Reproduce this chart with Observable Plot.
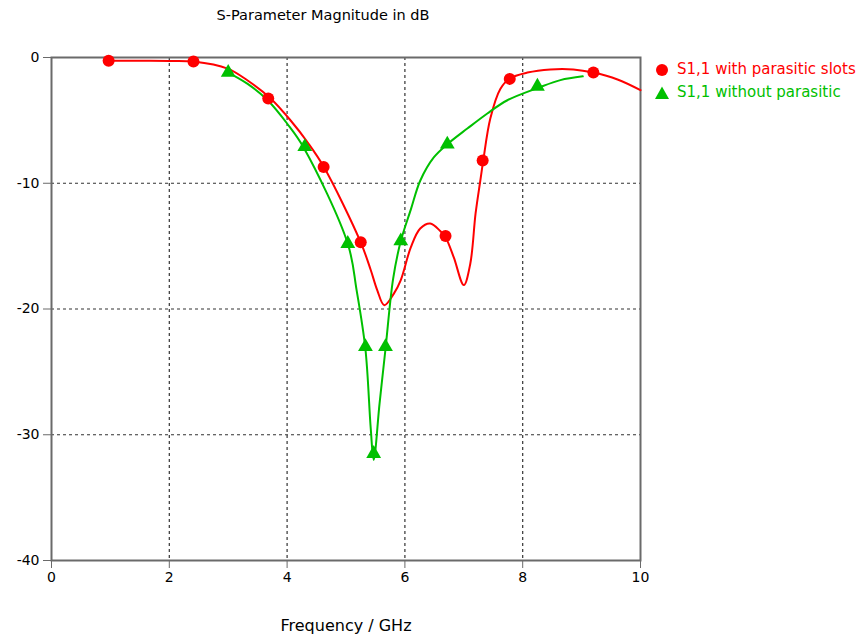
<!DOCTYPE html>
<html>
<head>
<meta charset="utf-8">
<script src="https://cdn.jsdelivr.net/npm/d3@7"></script>
<script src="https://cdn.jsdelivr.net/npm/@observablehq/plot@0.6"></script>
<style>
  html, body { margin: 0; padding: 0; background: #fff; }
  #wrap { position: relative; width: 864px; height: 638px; font-family: "DejaVu Sans", Verdana, sans-serif; }
  #title { position: absolute; top: 7px; left: 0; width: 646px; text-align: center; font-size: 14.5px; color: #000; }
  #legend { position: absolute; left: 654px; top: 58px; font-size: 15px; line-height: 23px; }
  #legend div { display: flex; align-items: center; white-space: nowrap; }
  #legend svg { margin-right: 7px; }
</style>
</head>
<body>
<div id="wrap">
  <div id="title"></div>
  <div id="chart"></div>
  <div id="legend"></div>
</div>
<script>
const titleText = "S-Parameter Magnitude in dB";
const xLabel = "Frequency / GHz";
const seriesNames = ["S1,1 with parasitic slots", "S1,1 without parasitic"];
const seriesColors = ["#ff0000", "#00c000"];
const xTicks = [0, 2, 4, 6, 8, 10];
const yTicks = [-40, -30, -20, -10, 0];

// S1,1 with parasitic slots: curve
const redX = [0.97, 1.5, 2.0, 2.41, 2.99, 3.33, 3.72, 4.06, 4.35, 4.62, 5.25, 5.42, 5.53, 5.65, 5.81, 5.93, 6.1, 6.26, 6.43, 6.6, 6.69, 6.83, 7.0, 7.11, 7.2, 7.28, 7.33, 7.45, 7.62, 7.78, 8.08, 8.47, 8.86, 9.2, 9.61, 10.0];
const redY = [-0.25, -0.26, -0.27, -0.32, -0.88, -1.83, -3.26, -5.01, -6.76, -8.67, -14.7, -16.9, -18.5, -19.7, -18.8, -17.7, -15.1, -13.6, -13.2, -13.8, -14.3, -15.9, -18.1, -16.4, -12.4, -9.8, -8.2, -4.85, -2.5, -1.67, -1.2, -0.95, -0.95, -1.2, -1.75, -2.6];
// markers
const redMX = [0.97, 2.41, 3.68, 4.62, 5.25, 6.69, 7.32, 7.78, 9.2];
const redMY = [-0.25, -0.32, -3.26, -8.7, -14.7, -14.2, -8.2, -1.7, -1.2];

// S1,1 without parasitic: curve
const grnX = [3.0, 3.33, 3.67, 4.0, 4.28, 5.03, 5.18, 5.33, 5.42, 5.47, 5.57, 5.67, 5.8, 5.93, 6.1, 6.26, 6.49, 6.72, 7.06, 7.4, 7.74, 8.27, 8.64, 9.02];
const grnY = [-1.2, -2.1, -3.4, -5.25, -7.15, -14.8, -18.5, -23.2, -29.5, -32.0, -27.5, -23.2, -17.6, -14.6, -12.1, -9.8, -7.95, -6.9, -5.65, -4.45, -3.4, -2.4, -1.8, -1.5];
const grnMX = [3.0, 4.3, 5.03, 5.33, 5.47, 5.67, 5.93, 6.72, 8.25];
const grnMY = [-1.2, -7.1, -14.8, -23.0, -31.5, -23.0, -14.6, -6.9, -2.3];

const red = redX.map((x, i) => ({x, y: redY[i]}));
const redM = redMX.map((x, i) => ({x, y: redMY[i]}));
const grn = grnX.map((x, i) => ({x, y: grnY[i]}));
const grnM = grnMX.map((x, i) => ({x, y: grnMY[i]}));

document.getElementById("title").textContent = titleText;

const chart = Plot.plot({
  width: 864,
  height: 638,
  marginLeft: 51,
  marginRight: 224,
  marginTop: 57,
  marginBottom: 78,
  style: {fontFamily: "DejaVu Sans, Verdana, sans-serif", fontSize: "14px", color: "#000", background: "#fff"},
  x: {domain: [0, 10]},
  y: {domain: [-40, 0]},
  marks: [
    Plot.gridX(xTicks.slice(1, -1), {stroke: "#333", strokeOpacity: 1, strokeDasharray: "3,3", strokeWidth: 1.2}),
    Plot.gridY(yTicks.slice(1, -1), {stroke: "#333", strokeOpacity: 1, strokeDasharray: "3,3", strokeWidth: 1.2}),
    Plot.frame({stroke: "#6a6a6a", strokeWidth: 2}),
    Plot.axisX({ticks: xTicks, tickSize: 8, tickPadding: 4, stroke: "#6a6a6a", label: null, tickFormat: d => String(d)}),
    Plot.axisX({ticks: [], label: xLabel, labelAnchor: "center", labelArrow: "none", labelOffset: 70, fontSize: 16, tickSize: 0}),
    Plot.axisY({ticks: yTicks, tickSize: 8, tickPadding: 4, stroke: "#6a6a6a", label: null, tickFormat: d => String(d)}),
    Plot.line(red, {x: "x", y: "y", stroke: seriesColors[0], strokeWidth: 2, curve: "catmull-rom"}),
    Plot.line(grn, {x: "x", y: "y", stroke: seriesColors[1], strokeWidth: 2, curve: "catmull-rom"}),
    Plot.dot(redM, {x: "x", y: "y", fill: seriesColors[0], r: 6, symbol: "circle"}),
    Plot.dot(grnM, {x: "x", y: "y", fill: seriesColors[1], r: 5.5, symbol: "triangle"})
  ]
});
document.getElementById("chart").appendChild(chart);

const legend = document.getElementById("legend");
seriesNames.forEach((name, i) => {
  const row = document.createElement("div");
  const sym = i === 0
    ? `<svg width="16" height="16"><circle cx="8" cy="8" r="6" fill="${seriesColors[i]}"/></svg>`
    : `<svg width="16" height="16"><path d="M8,1.5L15,14L1,14Z" fill="${seriesColors[i]}"/></svg>`;
  row.innerHTML = sym + `<span style="color:${seriesColors[i]}">${name}</span>`;
  legend.appendChild(row);
});
</script>
</body>
</html>
